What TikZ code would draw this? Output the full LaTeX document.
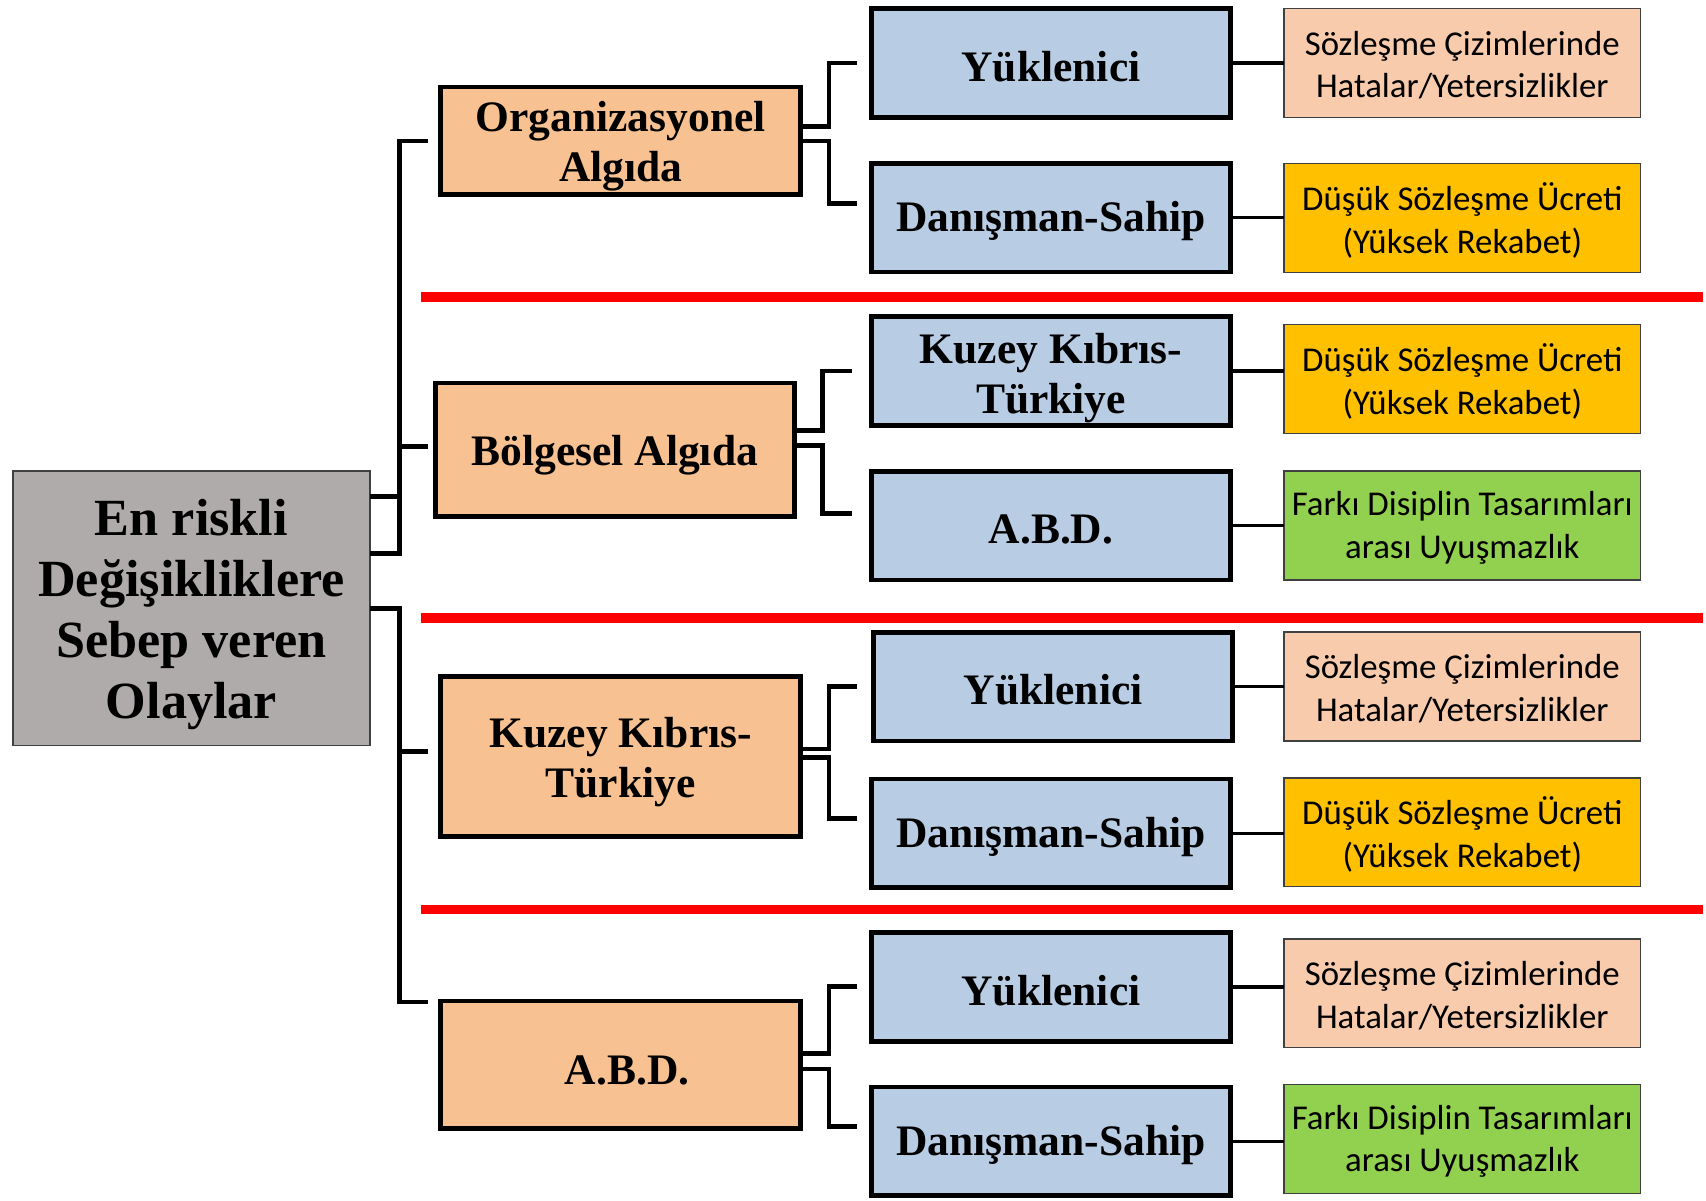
\documentclass[tikz,border=0pt]{standalone}
\usepackage{fontspec}
\setmainfont{Liberation Serif}
\newfontfamily\calib{Carlito}
\usetikzlibrary{calc}
\definecolor{rootgray}{RGB}{175,171,171}
\definecolor{lvltwo}{RGB}{248,193,145}
\definecolor{lvlthree}{RGB}{184,204,228}
\definecolor{peach}{RGB}{248,203,173}
\definecolor{amber}{RGB}{255,192,0}
\definecolor{lgreen}{RGB}{146,208,80}
\definecolor{redline}{RGB}{255,0,0}
\newcommand\dnshift{0pt}
\newcommand\dn[1]{\raisebox{-\dnshift}[\height][\depth]{#1}}
\begin{document}
\begin{tikzpicture}[x=0.5pt,y=-0.5pt,
  rootbox/.style={draw=black!75,line width=0.7pt,fill=rootgray,inner sep=0pt,outer sep=0pt,
    minimum width=164pt,minimum height=126pt,align=center,
    font=\bfseries\fontsize{24}{28}\selectfont\renewcommand\dnshift{3pt}},
  twobox/.style={draw=black,line width=2.2pt,fill=lvltwo,inner sep=0pt,outer sep=0pt,
    minimum width=165.5pt,align=center,
    font=\bfseries\fontsize{20}{23}\selectfont\renewcommand\dnshift{2.6pt}},
  threebox/.style={draw=black,line width=2.2pt,fill=lvlthree,inner sep=0pt,outer sep=0pt,
    minimum width=165pt,minimum height=50pt,align=center,
    font=\bfseries\fontsize{20}{23}\selectfont\renewcommand\dnshift{1.6pt}},
  fourbox/.style={draw=black!75,line width=0.6pt,inner sep=0pt,outer sep=0pt,
    minimum width=164pt,minimum height=50pt,align=center,
    font=\calib\fontsize{16}{19.5}\selectfont\renewcommand\dnshift{1pt}},
  conn/.style={draw=black,line width=2.2pt},
  connthin/.style={draw=black,line width=1.6pt},
  sep/.style={draw=redline,line width=4.5pt}
]
\useasboundingbox[fill=white] (0,0) rectangle (1568,1103);

% root
\node[rootbox] (root) at (176,559) {\dn{En riskli}\\\dn{Değişikliklere}\\\dn{Sebep veren}\\\dn{Olaylar}};

% level 2
\node[twobox,minimum height=49.5pt] (org) at (570.5,129.5) {\dn{Organizasyonel}\\\dn{Algıda}};
\node[twobox,minimum width=165pt,minimum height=61.5pt] (bolg) at (565,413.5) {\dn{Bölgesel Algıda}};
\node[twobox,minimum height=73.5pt] (kkt) at (570.5,695.5) {\dn{Kuzey Kıbrıs-}\\\dn{Türkiye}};
\node[twobox,minimum height=58.5pt] (abd) at (570.5,978.5) {\dn{\hspace*{6pt}A.B.D.}};

% level 3
\node[threebox] (b1) at (966,58) {\dn{Yüklenici}};
\node[threebox] (b2) at (966,200) {\dn{Danışman-Sahip}};
\node[threebox] (b3) at (966,341) {\raisebox{-3.4pt}[\height][\depth]{Kuzey Kıbrıs-}\\\raisebox{-3.4pt}[\height][\depth]{Türkiye}};
\node[threebox] (b4) at (966,483) {\dn{A.B.D.}};
\node[threebox] (b5) at (968,631) {\dn{Yüklenici}};
\node[threebox] (b6) at (966,766) {\dn{Danışman-Sahip}};
\node[threebox] (b7) at (966,907) {\dn{Yüklenici}};
\node[threebox] (b8) at (966,1049) {\dn{Danışman-Sahip}};

% level 4
\node[fourbox,fill=peach] (c1) at (1344,58) {\dn{Sözleşme Çizimlerinde}\\\dn{Hatalar/Yetersizlikler}};
\node[fourbox,fill=amber] (c2) at (1344,200.5) {\dn{Düşük Sözleşme Ücreti}\\\dn{(Yüksek Rekabet)}};
\node[fourbox,fill=amber] (c3) at (1344,348.5) {\dn{Düşük Sözleşme Ücreti}\\\dn{(Yüksek Rekabet)}};
\node[fourbox,fill=lgreen] (c4) at (1344,483) {\dn{Farkı Disiplin Tasarımları}\\\dn{arası Uyuşmazlık}};
\node[fourbox,fill=peach] (c5) at (1344,631) {\dn{Sözleşme Çizimlerinde}\\\dn{Hatalar/Yetersizlikler}};
\node[fourbox,fill=amber] (c6) at (1344,765) {\dn{Düşük Sözleşme Ücreti}\\\dn{(Yüksek Rekabet)}};
\node[fourbox,fill=peach] (c7) at (1344,913) {\dn{Sözleşme Çizimlerinde}\\\dn{Hatalar/Yetersizlikler}};
\node[fourbox,fill=lgreen] (c8) at (1344,1047) {\dn{Farkı Disiplin Tasarımları}\\\dn{arası Uyuşmazlık}};

% red separators
\draw[sep] (387,273) -- (1565,273);
\draw[sep] (387,568) -- (1565,568);
\draw[sep] (387,836) -- (1565,836);

% root -> level 2
\draw[conn] ($(root.east)+(0,-103)$) -| ($(org.west)+(-38,0)$) -- ($(org.west)+(-12,0)$);
\draw[conn] ($(root.east)+(0,-50)$) -| ($(bolg.west)+(-33,-3)$) -- ($(bolg.west)+(-7,-3)$);
\draw[conn] (root.east) -| ($(kkt.west)+(-38,-5)$) -- ($(kkt.west)+(-12,-5)$);
\draw[conn] (root.east) -| ($(abd.north west)+(-38,1)$) -- ($(abd.north west)+(-12,1)$);

% level 2 -> level 3
\draw[conn] ($(org.east)+(0,-13)$) -| ($(b1.west)+(-39,0)$) -- ($(b1.west)+(-13,0)$);
\draw[conn] (org.east) -| ($(b2.west)+(-39,-13)$) -- ($(b2.west)+(-13,-13)$);
\draw[conn] ($(bolg.east)+(0,-18)$) -| ($(b3.west)+(-45,0)$) -- ($(b3.west)+(-18,0)$);
\draw[conn] ($(bolg.east)+(0,-4)$) -| ($(b4.west)+(-45,-11)$) -- ($(b4.west)+(-18,-11)$);
\draw[conn] ($(kkt.east)+(0,-7)$) -| ($(b5.west)+(-41,0)$) -- ($(b5.west)+(-15,0)$);
\draw[conn] ($(kkt.east)+(0,1)$) -| ($(b6.west)+(-39,-14)$) -- ($(b6.west)+(-13,-14)$);
\draw[conn] ($(abd.east)+(0,-10)$) -| ($(b7.west)+(-39,0)$) -- ($(b7.west)+(-13,0)$);
\draw[conn] ($(abd.east)+(0,4)$) -| ($(b8.west)+(-39,-14)$) -- ($(b8.west)+(-13,-14)$);

% level 3 -> level 4
\draw[connthin] (b1.east) -- (c1.west |- b1.east);
\draw[connthin] (b2.east) -- (c2.west |- b2.east);
\draw[connthin] (b3.east) -- (c3.west |- b3.east);
\draw[connthin] (b4.east) -- (c4.west |- b4.east);
\draw[connthin] (b5.east) -- (c5.west |- b5.east);
\draw[connthin] (b6.east) -- (c6.west |- b6.east);
\draw[connthin] (b7.east) -- (c7.west |- b7.east);
\draw[connthin] (b8.east) -- (c8.west |- b8.east);
\end{tikzpicture}
\end{document}
